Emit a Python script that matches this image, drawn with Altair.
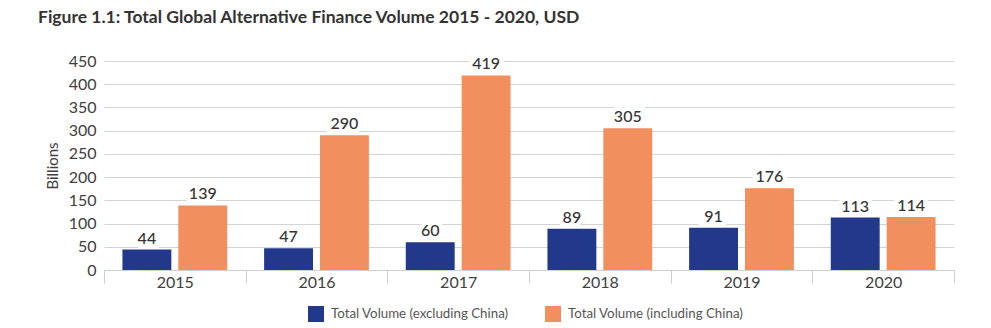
import altair as alt
import pandas as pd

years = ["2015", "2016", "2017", "2018", "2019", "2020"]
excl_china = [44, 47, 60, 89, 91, 113]
incl_china = [139, 290, 419, 305, 176, 114]
series = ["Total Volume (excluding China)", "Total Volume (including China)"]
colors = ["#22388b", "#f28f5e"]

rows = []
for i, y in enumerate(years):
    rows.append({"year": y, "series": series[0], "value": excl_china[i]})
    rows.append({"year": y, "series": series[1], "value": incl_china[i]})
df = pd.DataFrame(rows)

FONT = "Lato"

yaxis = alt.Axis(title="Billions", values=list(range(0, 451, 50)), tickCount=10,
                 labelOverlap=False,
                 labelFontSize=16, labelColor="#404040", labelFont=FONT,
                 titleFont=FONT, titleFontSize=15, titleFontWeight="normal",
                 titleColor="#404040", titlePadding=8,
                 domain=False, ticks=False, labelPadding=8,
                 gridColor="#d4d4d4", gridWidth=1)

base = alt.Chart(df).encode(
    x=alt.X("year:N", sort=years,
            scale=alt.Scale(paddingInner=0, paddingOuter=0),
            axis=alt.Axis(title=None, labelAngle=0, labelFontSize=16, labelColor="#404040",
                          labelFont=FONT, tickBand="extent", tickSize=13, tickColor="#d0d0d0",
                          domainColor="#d0d0d0", labelPadding=-9, grid=False)),
    xOffset=alt.XOffset("series:N", sort=series,
                        scale=alt.Scale(paddingInner=0.125, paddingOuter=0.33)),
    y=alt.Y("value:Q", scale=alt.Scale(domain=[0, 450]), axis=yaxis),
)

bars = base.mark_bar().encode(
    color=alt.Color("series:N", sort=series,
                    scale=alt.Scale(domain=series, range=colors),
                    legend=alt.Legend(title=None, orient="none", legendX=204, legendY=245,
                                      direction="horizontal", symbolType="square",
                                      symbolSize=256, symbolStrokeWidth=0,
                                      labelFont=FONT, labelFontSize=13.3, labelColor="#555555",
                                      columnPadding=36, labelOffset=7, labelLimit=300)),
)

halo = base.mark_text(dy=-11, fontSize=16, font=FONT, color="white", stroke="white",
                      strokeWidth=9, fontWeight=500).encode(text=alt.Text("value:Q"))

labels = base.mark_text(dy=-11, fontSize=16, font=FONT, color="#333333", fontWeight=500).encode(
    text=alt.Text("value:Q"),
)

chart = (bars + halo + labels).properties(
    width=850, height=209,
    title=alt.TitleParams("Figure 1.1: Total Global Alternative Finance Volume 2015 - 2020, USD",
                          anchor="start", frame="group", dx=-66, offset=27, fontSize=17.5, font=FONT,
                          fontWeight="bold", color="#333333"),
    autosize=alt.AutoSizeParams(type="none"),
    padding={"left": 104, "top": 61, "right": 37, "bottom": 58},
).configure(background="white").configure_view(stroke=None)

chart.save("out.html", embed_options={"renderer": "svg", "actions": False})
